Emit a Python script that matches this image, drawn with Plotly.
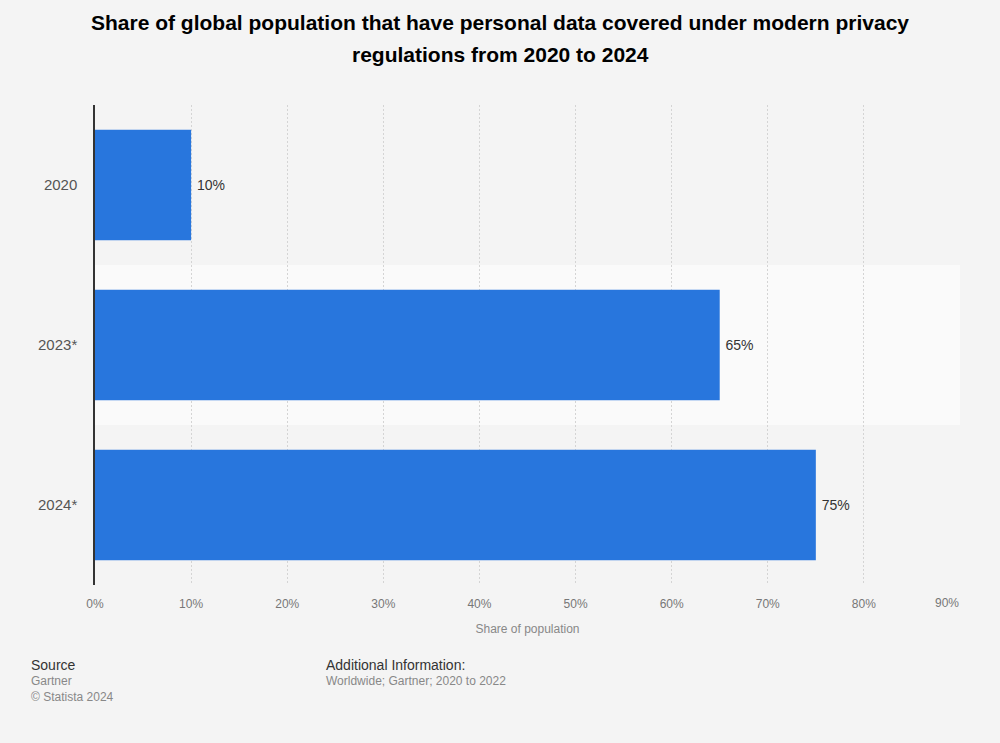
import plotly.graph_objects as go

categories = ["2020", "2023*", "2024*"]
values = [10, 65, 75]
labels = ["10%", "65%", "75%"]
x_ticks = [0, 10, 20, 30, 40, 50, 60, 70, 80, 90]
x_tick_labels = [f"{t}%" for t in x_ticks]
title_lines = ["Share of global population that have personal data covered under modern privacy",
               "regulations from 2020 to 2024"]

FONT = "Liberation Sans, Arial, sans-serif"
W, H = 1000, 743
ML, MR, MT, MB = 95, 40, 105, 158

fig = go.Figure()
fig.add_trace(go.Bar(
    y=categories, x=values, orientation="h",
    marker=dict(color="#2876dd", line=dict(width=0)),
    width=0.69,
    text=["\u2009" + l for l in labels], textposition="outside", cliponaxis=False,
    textfont=dict(family=FONT, size=14, color="#333333"),
    hoverinfo="skip",
))

# last tick label is drawn shifted left (as in the reference), via annotation
tick_text = x_tick_labels[:-1] + [""]

fig.update_layout(
    width=W, height=H,
    paper_bgcolor="#f4f4f4", plot_bgcolor="#f4f4f4",
    margin=dict(l=ML, r=MR, t=MT, b=MB),
    showlegend=False,
    xaxis=dict(
        range=[0, 90], tickvals=x_ticks, ticktext=tick_text,
        showgrid=True, gridcolor="#d4d4d4", griddash="2px,2px", gridwidth=1,
        zeroline=False, showline=False, ticks="", ticklabelstandoff=10,
        tickfont=dict(family=FONT, size=12, color="#777777"),
        title=dict(text="Share of population", standoff=14,
                   font=dict(family=FONT, size=12, color="#888888")),
        fixedrange=True,
    ),
    yaxis=dict(
        categoryorder="array", categoryarray=categories, autorange="reversed",
        showgrid=False, zeroline=False,
        showline=True, linecolor="#333333", linewidth=1.5,
        ticks="", ticklabelstandoff=13,
        tickfont=dict(family=FONT, size=15, color="#555555"),
        fixedrange=True,
    ),
    shapes=[dict(type="rect", xref="x", yref="y", x0=0, x1=90, y0=0.5, y1=1.5,
                 fillcolor="#fafafa", line=dict(width=0), layer="below")],
)

ph = H - MT - MB
pw = W - ML - MR
def px(x):
    return (x - ML) / pw
def py(y):
    return (H - MB - y) / ph

for i, line in enumerate(title_lines):
    fig.add_annotation(text=f"<b>{line}</b>", x=px(500), y=py(22 + 32 * i),
                       xref="paper", yref="paper", xanchor="center", yanchor="middle",
                       showarrow=False, font=dict(family=FONT, size=21, color="#000000"))

fig.add_annotation(text=x_tick_labels[-1], x=px(947), y=py(603), xref="paper", yref="paper",
                   xanchor="center", yanchor="middle", showarrow=False,
                   font=dict(family=FONT, size=12, color="#777777"))

notes = [
    ("Source", 29, 665, 14, "#333333"),
    ("Gartner", 29, 681, 12, "#888888"),
    ("© Statista 2024", 29, 697, 12, "#888888"),
    ("Additional Information:", 324, 665, 14, "#333333"),
    ("Worldwide; Gartner; 2020 to 2022", 324, 681, 12, "#888888"),
]
for t, x, y, s, c in notes:
    fig.add_annotation(text=t, x=px(x), y=py(y), xref="paper", yref="paper",
                       xanchor="left", yanchor="middle", showarrow=False,
                       font=dict(family=FONT, size=s, color=c))

fig.write_html("out.html", config={"displayModeBar": False},
               post_script="document.body.style.margin='0';document.body.style.background='#f4f4f4';")
